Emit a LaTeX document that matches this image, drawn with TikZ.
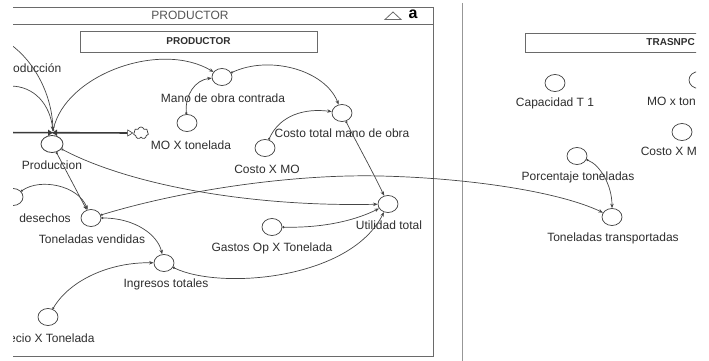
\documentclass[tikz,border=0pt]{standalone}
\usepackage{fontspec}
\setmainfont{Liberation Sans}
\usetikzlibrary{shapes.geometric,shapes.symbols,arrows.meta}

\definecolor{linec}{HTML}{3A3A3A}
\definecolor{conc}{HTML}{454545}
\definecolor{framec}{HTML}{6A6A6A}
\definecolor{txt}{HTML}{2E2E2E}

\begin{document}
\begin{tikzpicture}[x=1pt,y=-1pt,
  aux/.style={ellipse,draw=linec,line width=0.7pt,minimum width=20pt,minimum height=17pt,inner sep=0pt},
  lbl/.style={font=\fontsize{12}{12}\selectfont,text=txt,inner sep=0pt},
  ttl/.style={font=\bfseries\fontsize{10}{10}\selectfont,text=txt,inner sep=0pt},
  titlebox/.style={draw=framec,line width=0.8pt},
  framel/.style={draw=framec,line width=0.8pt},
  conn/.style={draw=conc,line width=0.7pt,{Circle[open,length=2.2pt,width=2.2pt]}-{Stealth[length=4.5pt,width=3.5pt]}},
  inconn/.style={draw=conc,line width=0.7pt,-{Stealth[length=4.5pt,width=3.5pt]}},
  pipe/.style={draw=linec,line width=1.6pt,-{Triangle[open,length=6pt,width=7pt,line width=0.6pt]}}
]
\useasboundingbox (0,0) rectangle (709,361);

% separator between the two sectors
\draw[draw=framec!70,line width=0.7pt] (462,3) -- (462,361);

\begin{scope}
\clip (13,0) rectangle (696,361);

% ---- sector frame PRODUCTOR
\draw[framel] (0,7) -- (433,7);
\draw[framel] (0,24) -- (433,24);
\draw[framel] (433,7) -- (433,356) -- (0,356);
\node[font=\fontsize{12}{12}\selectfont,text=framec!80!black,inner sep=0pt] (hdr) at (190,15.5) {PRODUCTOR};
\draw[framec,line width=0.8pt] (385,19.5) -- (393,12) -- (401,19.5) -- cycle;
\node[font=\bfseries\fontsize{16}{16}\selectfont,text=black,inner sep=0pt] (lock) at (413,14) {a};

\draw[titlebox] (80,31) rectangle (317,52);
\node[ttl] (tprod) at (198.5,41.5) {PRODUCTOR};

% ---- sector TRASNPORTE (cut at the right edge)
\draw[titlebox] (730,33) -- (525,33) -- (525,52) -- (730,52);
\node[ttl,anchor=east] (ttras) at (695,42.5) {TRASNPC};

% ---- stock flow: production pipe, valve and sink
\coordinate (pin) at (0,132.5);
\node[cloud,cloud puffs=7,draw=linec,line width=0.7pt,minimum width=15pt,minimum height=12pt,inner sep=0pt] (sink) at (141,133) {};
\draw[pipe] (pin) -- (sink.west);
\node[ellipse,draw=linec,line width=0.8pt,minimum width=22pt,minimum height=17pt,inner sep=0pt] (valve) at (52,144) {};
\fill[linec] (48,129.5) -- (57,136) -- (57,129.5) -- (48,136) -- cycle;
\node[lbl] (valveL) at (52,165) {Produccion};

% ---- converters, left sector
\node[aux] (mano) at (222,77) {};
\node[lbl] (manoL) at (223,98) {Mano de obra contrada};
\node[aux] (moxt) at (187,123) {};
\node[lbl] (moxtL) at (191,145) {MO X tonelada};
\node[aux] (ctmo) at (342,113) {};
\node[lbl] (ctmoL) at (342,133) {Costo total mano de obra};
\node[aux] (cxmo) at (265,148) {};
\node[lbl] (cxmoL) at (267,169) {Costo X MO};
\node[aux] (util) at (388,204) {};
\node[lbl] (utilL) at (389,225) {Utilidad total};
\node[aux] (gastos) at (272,227) {};
\node[lbl] (gastosL) at (272,248) {Gastos Op X Tonelada};
\node[aux] (tonv) at (91,218) {};
\node[lbl] (tonvL) at (92,239) {Toneladas vendidas};
\node[aux] (desech) at (13,197) {};
\node[lbl] (desechL) at (45,218) {desechos};
\node[aux] (ingr) at (164,263) {};
\node[lbl] (ingrL) at (166,284) {Ingresos totales};
\node[aux] (precio) at (48,317) {};
\node[lbl,anchor=west] (precioL) at (9,338) {ecio X Tonelada};
\node[lbl,anchor=west] (prodL) at (13,68) {oducción};

% ---- converters, right sector
\node[aux] (capt) at (555,83) {};
\node[lbl] (captL) at (555,103) {Capacidad T 1};
\node[aux] (moxton) at (699,80) {};
\node[lbl,anchor=east] (moxtonL) at (696,101) {MO x ton};
\node[aux] (cxm) at (682,132) {};
\node[lbl,anchor=east] (cxmL) at (697,151) {Costo X M};
\node[aux] (porc) at (577,156) {};
\node[lbl] (porcL) at (578,177) {Porcentaje toneladas};
\node[aux] (tont) at (612,217) {};
\node[lbl] (tontL) at (613,238) {Toneladas transportadas};

% ---- connectors
\coordinate (in1) at (10,44);
\coordinate (in2) at (10,86);
\coordinate (vtop) at (53,131);
\draw[inconn] (in1) .. controls (35,62) and (52,95) .. (vtop);
\draw[inconn] (in2) .. controls (35,86) and (50,105) .. (vtop);

\draw[conn] (vtop) .. controls (65,75) and (160,40) .. (mano);
\draw[conn] (moxt) .. controls (185,95) and (195,80) .. (mano);
\draw[conn] (mano) .. controls (270,55) and (325,70) .. (ctmo);
\draw[conn] (cxmo) .. controls (280,115) and (305,108) .. (ctmo);
\draw[conn] (ctmo) .. controls (355,140) and (372,170) .. (util);
\draw[conn] (valve) .. controls (130,185) and (250,207) .. (util);
\draw[conn] (gastos) .. controls (330,228) and (360,218) .. (util);
\draw[conn] (ingr) .. controls (220,290) and (350,280) .. (util);
\draw[conn] (valve) -- (tonv);
\draw[conn] (desech) .. controls (40,178) and (78,185) .. (tonv);
\draw[conn] (tonv) .. controls (135,218) and (158,235) .. (ingr);
\draw[conn] (precio) .. controls (70,280) and (110,262) .. (ingr);
\draw[conn] (tonv) .. controls (190,188) and (300,174) .. (380,176)
                   .. controls (470,178) and (560,192) .. (tont);
\draw[conn] (porc) .. controls (600,165) and (612,185) .. (tont);
\end{scope}
\end{tikzpicture}
\end{document}
